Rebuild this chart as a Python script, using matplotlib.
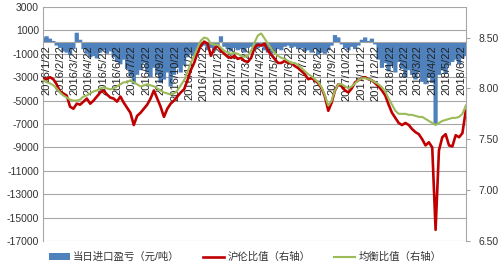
import matplotlib
matplotlib.use('Agg')
import matplotlib.pyplot as plt
from matplotlib.patches import Patch
from matplotlib.lines import Line2D
from matplotlib.transforms import offset_copy
import pandas as pd

plt.rcParams['font.family'] = ['Liberation Sans', 'Noto Sans CJK SC', 'DejaVu Sans']

# ---- data (weekly readings) ----
dates = pd.date_range('2016-01-16', '2018-07-02', periods=127)

profit = [400, 500, 300, 100, -300, -500, -800, -900, -1100, -600,
          800, 200, -600, -1000, -1300, -1200, -1400, -900, -700, -1000,
          -800, -1300, -1700, -1900, -1500, -2300, -2900, -3600, -2800, -2400,
          -1800, -2600, -3000, -2200, -2800, -3500, -3200, -2600, -3800, -2800,
          -2200, -2600, -2000, -1300, -1000, -1200, -600, -400, -300, -700,
          -500, -800, -300, 500, -400, -600, -800, -500, -700, -600,
          -900, -500, -400, -600, -500, -300, -700, -900, -1000, -800,
          -600, -700, -400, -300, -500, -400, -600, -500, -800, -700,
          -900, -600, -1100, -900, -1000, -700, -300, 600, 400, -200,
          -500, -700, -400, -600, -300, 200, 400, 100, 300, -200,
          -1500, -2200, -1800, -2500, -2000, -2600, -1700, -2300, -3000, -2400,
          -2800, -3200, -2600, -3400, -3600, -3000, -3500, -7000, -2800, -2400,
          -2700, -2000, -1700, -1500, -1900, -1400, -1200]

shfe_lme = [8.10, 8.09, 8.11, 8.09, 8.04, 7.97, 7.95, 7.93, 7.82, 7.80,
            7.85, 7.84, 7.87, 7.90, 7.85, 7.88, 7.92, 7.96, 7.98, 7.94,
            7.91, 7.90, 7.87, 7.92, 7.86, 7.81, 7.76, 7.64, 7.73, 7.76,
            7.80, 7.84, 7.90, 7.98, 7.90, 7.82, 7.72, 7.80, 7.85, 7.88,
            7.92, 7.96, 7.99, 8.08, 8.18, 8.25, 8.35, 8.42, 8.46, 8.44,
            8.32, 8.39, 8.42, 8.37, 8.34, 8.31, 8.30, 8.32, 8.29, 8.30,
            8.27, 8.26, 8.30, 8.40, 8.43, 8.42, 8.44, 8.37, 8.33, 8.29,
            8.25, 8.25, 8.27, 8.25, 8.25, 8.22, 8.20, 8.17, 8.14, 8.09,
            8.10, 8.08, 8.05, 8.00, 7.92, 7.78, 7.86, 7.98, 8.04, 8.02,
            7.98, 7.96, 8.00, 8.06, 8.08, 8.10, 8.11, 8.09, 8.08, 8.05,
            8.02, 7.98, 7.93, 7.84, 7.76, 7.71, 7.66, 7.64, 7.66, 7.64,
            7.60, 7.57, 7.55, 7.50, 7.44, 7.47, 7.42, 6.61, 7.39, 7.52,
            7.55, 7.44, 7.43, 7.54, 7.52, 7.56, 7.78]

balance = [8.08, 8.06, 8.05, 8.03, 8.00, 7.96, 7.93, 7.91, 7.89, 7.88,
           7.88, 7.89, 7.92, 7.93, 7.95, 7.97, 7.98, 8.00, 8.01, 8.00,
           7.99, 8.00, 8.02, 8.04, 8.06, 8.06, 8.08, 8.06, 8.04, 8.02,
           8.03, 8.04, 8.03, 8.02, 8.00, 7.98, 7.96, 7.95, 7.94, 7.95,
           7.98, 8.03, 8.08, 8.16, 8.25, 8.32, 8.40, 8.47, 8.50, 8.49,
           8.44, 8.43, 8.43, 8.40, 8.37, 8.35, 8.34, 8.35, 8.34, 8.32,
           8.31, 8.32, 8.37, 8.45, 8.52, 8.54, 8.49, 8.44, 8.39, 8.35,
           8.32, 8.30, 8.29, 8.27, 8.25, 8.25, 8.23, 8.20, 8.17, 8.14,
           8.12, 8.09, 8.06, 8.01, 7.93, 7.83, 7.88, 7.98, 8.04, 8.04,
           8.02, 8.00, 8.02, 8.05, 8.08, 8.10, 8.10, 8.09, 8.08, 8.06,
           8.04, 8.01, 7.97, 7.90, 7.84, 7.78, 7.75, 7.75, 7.75, 7.74,
           7.74, 7.73, 7.72, 7.72, 7.70, 7.68, 7.66, 7.64, 7.66, 7.68,
           7.69, 7.70, 7.71, 7.71, 7.72, 7.75, 7.83]

label_dates = pd.date_range('2016-01-22', '2018-06-22', freq=pd.DateOffset(months=1))
date_labels = [f"{d.year}/{d.month}/{d.day}" for d in label_dates]

left_ticks = [3000, 1000, -1000, -3000, -5000, -7000, -9000, -11000, -13000, -15000, -17000]
left_labels = ['3000', '1000', '-1000', '-3000', '-5000', '-7000', '-9000',
               '-11000', '-13000', '-15000', '-17000']
right_ticks = [6.5, 7.0, 7.5, 8.0, 8.5]
right_labels = ['6.50', '7.00', '7.50', '8.00', '8.50']

series_names = ['当日进口盈亏（元/吨）', '沪伦比值（右轴）', '均衡比值（右轴）']

# ---- styling ----
BLUE = '#4F81BD'
RED = '#C00000'
GREEN = '#9BBB59'
GRID = '#A6A6A6'
TXT = '#333333'

fig = plt.figure(figsize=(5, 2.72), dpi=100)
ax = fig.add_axes([43/500, 1 - 241/272, 423/500, 234/272])

ax.bar(dates, profit, width=9.0, color=BLUE, linewidth=0, zorder=2, snap=False)
ax.set_ylim(-17000, 3000)
ax.set_yticks(left_ticks)
ax.set_yticklabels(left_labels)
ax.grid(axis='y', color=GRID, linewidth=0.8)
ax.set_axisbelow(True)
for s in ['top', 'right']:
    ax.spines[s].set_visible(False)
ax.spines['left'].set_color(GRID)
ax.spines['bottom'].set_position(('data', 0))
ax.spines['bottom'].set_color(GRID)
ax.spines['bottom'].set_linewidth(0.8)
ax.spines['bottom'].set_zorder(3)
ax.set_xticks(label_dates)
ax.set_xticklabels([])
ax.tick_params(axis='x', length=0)
ax.tick_params(axis='y', length=0, pad=3, labelsize=7.5, labelcolor=TXT)
ax.set_xlim(dates[0] - pd.Timedelta(days=0.5), dates[-1] + pd.Timedelta(days=0.5))

# date labels hanging below the zero line, drawn above the bars
lab_tr = offset_copy(ax.transData, fig=fig, y=-3, units='dots')
for d, lab in zip(label_dates, date_labels):
    ax.text(d, 0, lab, transform=lab_tr, rotation=90, ha='center', va='top',
            fontsize=8, color='#222222', zorder=4)

ax2 = ax.twinx()
ax2.plot(dates, shfe_lme, color=RED, linewidth=1.9, solid_joinstyle='round')
ax2.plot(dates, balance, color=GREEN, linewidth=1.5, solid_joinstyle='round')
ax2.set_ylim(6.5, 8.8)
ax2.set_yticks(right_ticks)
ax2.set_yticklabels(right_labels)
for s in ['top', 'left', 'bottom']:
    ax2.spines[s].set_visible(False)
ax2.spines['right'].set_color(GRID)
ax2.tick_params(axis='y', length=3, color=GRID, pad=6, labelsize=7.5, labelcolor=TXT)

handles = [Patch(facecolor=BLUE, edgecolor='none'),
           Line2D([0], [0], color=RED, linewidth=1.9),
           Line2D([0], [0], color=GREEN, linewidth=1.5)]
fig.legend(handles, series_names, loc='center', bbox_to_anchor=(0.49, 0.055),
           ncol=3, frameon=False, fontsize=7.5, handlelength=2.0, handleheight=0.6,
           handletextpad=0.3, columnspacing=2.3, labelcolor=TXT)

fig.savefig('out.png', dpi=100)
